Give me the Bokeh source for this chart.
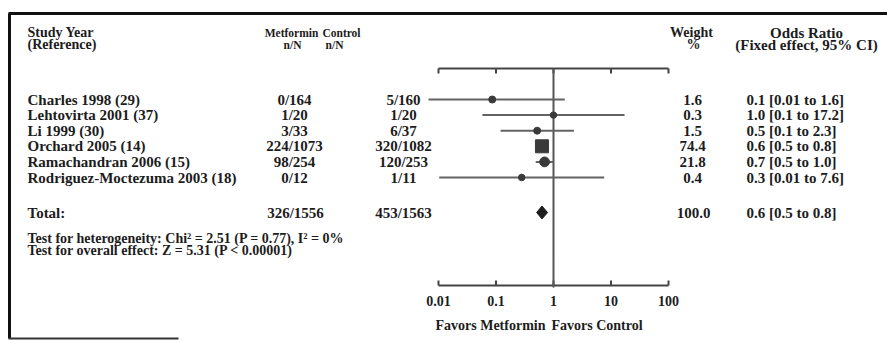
from bokeh.plotting import figure
from bokeh.models import Range1d, LogScale, ColumnDataSource
from bokeh.core.properties import value
from bokeh.embed import file_html
from bokeh.resources import INLINE

# ---------------- data ----------------
studies = ["Charles 1998 (29)", "Lehtovirta 2001 (37)", "Li 1999 (30)",
           "Orchard 2005 (14)", "Ramachandran 2006 (15)", "Rodriguez-Moctezuma 2003 (18)"]
metformin_nN = ["0/164", "1/20", "3/33", "224/1073", "98/254", "0/12"]
control_nN = ["5/160", "1/20", "6/37", "320/1082", "120/253", "1/11"]
weights = [1.6, 0.3, 1.5, 74.4, 21.8, 0.4]
weight_labels = ["1.6", "0.3", "1.5", "74.4", "21.8", "0.4"]
odds_ratio = [0.086, 1.0, 0.52, 0.63, 0.70, 0.28]
ci_low = [0.0067, 0.058, 0.12, 0.52, 0.49, 0.0103]
ci_high = [1.57, 17.2, 2.26, 0.77, 0.99, 7.62]
or_labels = ["0.1 [0.01 to 1.6]", "1.0 [0.1 to 17.2]", "0.5 [0.1 to 2.3]",
             "0.6 [0.5 to 0.8]", "0.7 [0.5 to 1.0]", "0.3 [0.01 to 7.6]"]
total_name = "Total:"
total_metformin = "326/1556"
total_control = "453/1563"
total_weight = "100.0"
total_or, total_low, total_high = 0.63, 0.51, 0.79
total_label = "0.6 [0.5 to 0.8]"
heterogeneity = "Test for heterogeneity: Chi\u00b2 = 2.51 (P = 0.77), I\u00b2 = 0%"
overall = "Test for overall effect: Z = 5.31 (P < 0.00001)"
axis_ticks = [0.01, 0.1, 1, 10, 100]
axis_tick_labels = ["0.01", "0.1", "1", "10", "100"]
null_value = 1
favors_left = "Favors Metformin"
favors_right = "Favors Control"
head_study = ["Study Year", "(Reference)"]
head_met = ["Metformin", "n/N"]
head_ctl = ["Control", "n/N"]
head_wt = ["Weight", "%"]
head_or = ["Odds Ratio", "(Fixed effect, 95% CI)"]

# ---------------- layout constants ----------------
W, H = 887, 341
X_OR001 = 438.0      # x of OR = 0.01
DEC = 57.5           # pixels per decade
ROW0, STEP = 99.0, 15.6
HEAD1, HEAD2 = 32, 44
TOTAL_Y = 212
TEST1, TEST2 = 238, 250
AX_TOP, AX_BOT = 68, 285
TICK_LAB_Y = 300
FAVORS_Y = 325

FONT = value("Liberation Serif")
TXT = "#1c1c1c"
LINE = "#636363"

p = figure(width=W, height=H, x_range=Range1d(0, W), y_range=Range1d(H, 0),
           output_backend="svg", toolbar_location=None, min_border=0,
           x_axis_location=None, y_axis_location=None)
p.grid.visible = False
p.outline_line_color = None
p.background_fill_color = "white"

lo = 10 ** (-2 - X_OR001 / DEC)
hi = 10 ** (-2 + (W - X_OR001) / DEC)
p.extra_x_ranges = {"or": Range1d(lo, hi)}
p.extra_x_scales = {"or": LogScale()}

ys = [ROW0 + i * STEP for i in range(len(studies))]


def txt(x, y, t, align="left", size="15px", **kw):
    p.text(x=x, y=y, text=t, text_font=FONT, text_font_size=size, text_font_style="bold",
           text_color=TXT, text_align=align, text_baseline="middle", **kw)


# frame (scan border)
p.segment(x0=[8], x1=[W], y0=[13], y1=[13], line_color="#111", line_width=3)
p.segment(x0=[9], x1=[9], y0=[13], y1=[338], line_color="#111", line_width=3)
p.segment(x0=[8], x1=[178], y0=[338], y1=[338], line_color="#333", line_width=2)

# headers
txt([27, 27], [HEAD1, HEAD2], head_study, size="14px")
txt([291, 292], [HEAD1, HEAD2], head_met, "center", size="11.5px")
txt([341, 334], [HEAD1, HEAD2], head_ctl, "center", size="11.5px")
txt([691, 693], [HEAD1, HEAD2], head_wt, "center", size="14px")
txt([806, 806], [HEAD1, HEAD2], head_or, "center")

# study rows
txt([27] * len(ys), ys, studies)
txt([294] * len(ys), ys, metformin_nN, "center")
txt([403] * len(ys), ys, control_nN, "center")
txt([692] * len(ys), ys, weight_labels, "center")
txt([746] * len(ys), ys, or_labels)

# totals
txt([27], [TOTAL_Y], [total_name])
txt([295], [TOTAL_Y], [total_metformin], "center")
txt([403], [TOTAL_Y], [total_control], "center")
txt([693], [TOTAL_Y], [total_weight], "center")
txt([746], [TOTAL_Y], [total_label])

# tests
txt([27, 27], [TEST1, TEST2], [heterogeneity, overall], size="14px")

# forest axes
p.segment(x0=[axis_ticks[0]] * 2, x1=[axis_ticks[-1]] * 2, y0=[AX_TOP, AX_BOT], y1=[AX_TOP, AX_BOT],
          x_range_name="or", line_color="#444", line_width=2)
p.segment(x0=axis_ticks, x1=axis_ticks, y0=[AX_TOP] * 5, y1=[AX_TOP + 5] * 5,
          x_range_name="or", line_color="#444", line_width=2)
p.segment(x0=axis_ticks, x1=axis_ticks, y0=[AX_BOT] * 5, y1=[AX_BOT - 5] * 5,
          x_range_name="or", line_color="#444", line_width=2)
p.segment(x0=[null_value], x1=[null_value], y0=[AX_TOP], y1=[AX_BOT + 2],
          x_range_name="or", line_color="#555", line_width=2)
txt(axis_ticks, [TICK_LAB_Y] * 5, axis_tick_labels, "center", size="14px", x_range_name="or")
txt([null_value], [FAVORS_Y], [favors_left], "right", size="14px", x_range_name="or", x_offset=-8)
txt([null_value], [FAVORS_Y], [favors_right], "left", size="14px", x_range_name="or", x_offset=-2)

# CIs and point estimates
src = ColumnDataSource(dict(
    y=ys, orr=odds_ratio, lo=ci_low, hi=ci_high,
    size=[6 + 7 * (w / max(weights)) ** 0.5 for w in weights],
    marker=["square" if w > 50 else "circle" for w in weights],
))
p.segment(x0="lo", x1="hi", y0="y", y1="y", source=src, x_range_name="or",
          line_color=LINE, line_width=2)
p.scatter(x="orr", y="y", size="size", marker="marker", source=src, x_range_name="or",
          fill_color="#3a3a3a", line_color="#3a3a3a")

# pooled diamond
p.patch(x=[total_low, total_or, total_high, total_or],
        y=[TOTAL_Y, TOTAL_Y - 6.5, TOTAL_Y, TOTAL_Y + 6.5],
        x_range_name="or", fill_color="#1e1e1e", line_color="#1e1e1e")

open("out.html", "w").write(file_html(p, INLINE))
